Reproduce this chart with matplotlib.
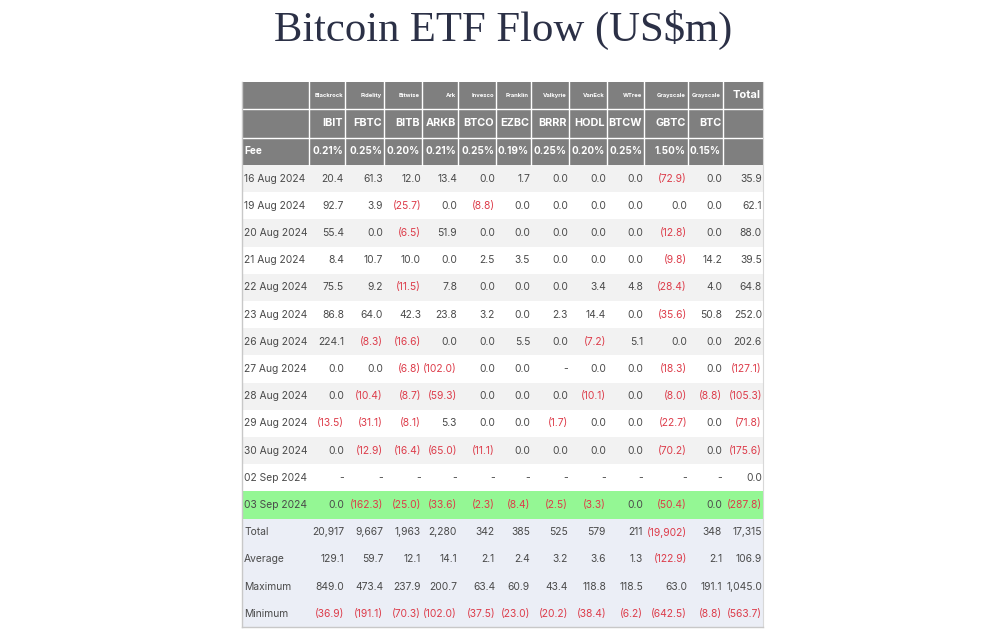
import matplotlib.pyplot as plt
from matplotlib.patches import Rectangle

# data
issuers = ["Blackrock", "Fidelity", "Bitwise", "Ark", "Invesco", "Franklin",
           "Valkyrie", "VanEck", "WTree", "Grayscale", "Grayscale"]
tickers = ["IBIT", "FBTC", "BITB", "ARKB", "BTCO", "EZBC", "BRRR", "HODL",
           "BTCW", "GBTC", "BTC"]
fees = ["0.21%", "0.25%", "0.20%", "0.21%", "0.25%", "0.19%", "0.25%",
        "0.20%", "0.25%", "1.50%", "0.15%"]
dates = ["16 Aug 2024", "19 Aug 2024", "20 Aug 2024", "21 Aug 2024",
         "22 Aug 2024", "23 Aug 2024", "26 Aug 2024", "27 Aug 2024",
         "28 Aug 2024", "29 Aug 2024", "30 Aug 2024", "02 Sep 2024",
         "03 Sep 2024"]

# one list per ticker, None = no data ("-")
IBIT = [20.4, 92.7, 55.4, 8.4, 75.5, 86.8, 224.1, 0.0, 0.0, -13.5, 0.0, None, 0.0]
FBTC = [61.3, 3.9, 0.0, 10.7, 9.2, 64.0, -8.3, 0.0, -10.4, -31.1, -12.9, None, -162.3]
BITB = [12.0, -25.7, -6.5, 10.0, -11.5, 42.3, -16.6, -6.8, -8.7, -8.1, -16.4, None, -25.0]
ARKB = [13.4, 0.0, 51.9, 0.0, 7.8, 23.8, 0.0, -102.0, -59.3, 5.3, -65.0, None, -33.6]
BTCO = [0.0, -8.8, 0.0, 2.5, 0.0, 3.2, 0.0, 0.0, 0.0, 0.0, -11.1, None, -2.3]
EZBC = [1.7, 0.0, 0.0, 3.5, 0.0, 0.0, 5.5, 0.0, 0.0, 0.0, 0.0, None, -8.4]
BRRR = [0.0, 0.0, 0.0, 0.0, 0.0, 2.3, 0.0, None, 0.0, -1.7, 0.0, None, -2.5]
HODL = [0.0, 0.0, 0.0, 0.0, 3.4, 14.4, -7.2, 0.0, -10.1, 0.0, 0.0, None, -3.3]
BTCW = [0.0, 0.0, 0.0, 0.0, 4.8, 0.0, 5.1, 0.0, 0.0, 0.0, 0.0, None, 0.0]
GBTC = [-72.9, 0.0, -12.8, -9.8, -28.4, -35.6, 0.0, -18.3, -8.0, -22.7, -70.2, None, -50.4]
BTC = [0.0, 0.0, 0.0, 14.2, 4.0, 50.8, 0.0, 0.0, -8.8, 0.0, 0.0, None, 0.0]
daily_total = [35.9, 62.1, 88.0, 39.5, 64.8, 252.0, 202.6, -127.1, -105.3,
               -71.8, -175.6, 0.0, -287.8]
flows = [IBIT, FBTC, BITB, ARKB, BTCO, EZBC, BRRR, HODL, BTCW, GBTC, BTC, daily_total]

sum_total = [20917, 9667, 1963, 2280, 342, 385, 525, 579, 211, -19902, 348, 17315]
sum_avg = [129.1, 59.7, 12.1, 14.1, 2.1, 2.4, 3.2, 3.6, 1.3, -122.9, 2.1, 106.9]
sum_max = [849.0, 473.4, 237.9, 200.7, 63.4, 60.9, 43.4, 118.8, 118.5, 63.0, 191.1, 1045.0]
sum_min = [-36.9, -191.1, -70.3, -102.0, -37.5, -23.0, -20.2, -38.4, -6.2, -642.5, -8.8, -563.7]
summary = [("Total", sum_total, 0), ("Average", sum_avg, 1),
           ("Maximum", sum_max, 1), ("Minimum", sum_min, 1)]

# layout (pixels)
col_edges = [242, 309, 345, 384, 422, 458, 496, 531, 569, 607, 644, 688, 723, 763]
head_rows = [82, 109, 138, 165]
row_h = 27.2

GREY = "#7f7f7f"
TXT = "#4a4a4a"
RED = "#dd3c4a"
FONT = "Inter"
FS = 7.4


def fmt(v, dec=1):
    if v is None:
        return "-", TXT
    if v < 0:
        return "(" + format(-v, ",.%df" % dec) + ")", RED
    return format(v, ",.%df" % dec), TXT


fig = plt.figure(figsize=(10, 6.32), dpi=100)
ax = fig.add_axes([0, 0, 1, 1])
ax.set_xlim(0, 1000)
ax.set_ylim(632, 0)
ax.axis("off")

fig.text(0.503, 0.952, "Bitcoin ETF Flow (US$m)", ha="center", va="center",
         fontsize=30.7, family="Liberation Serif", color="#2b3046")

left, right = col_edges[0], col_edges[-1]

# header block
ax.add_patch(Rectangle((left, head_rows[0]), right - left, head_rows[-1] - head_rows[0],
                       facecolor=GREY, edgecolor="none"))
for x in col_edges[1:-1]:
    ax.plot([x, x], [head_rows[0], head_rows[-1]], color="white", lw=1)
for y in head_rows[1:3]:
    ax.plot([left, right], [y, y], color="white", lw=1)

yc1 = (head_rows[0] + head_rows[1]) / 2
yc2 = (head_rows[1] + head_rows[2]) / 2
yc3 = (head_rows[2] + head_rows[3]) / 2
for i in range(len(tickers)):
    xr = col_edges[i + 2] - 2
    ax.text(xr, yc1, issuers[i], ha="right", va="center", fontsize=4.2,
            family=FONT, weight="bold", color="white")
    ax.text(xr, yc2, tickers[i], ha="right", va="center", fontsize=7.8,
            family=FONT, weight="bold", color="white")
    ax.text(xr, yc3, fees[i], ha="right", va="center", fontsize=7.2,
            family=FONT, weight="bold", color="white")
ax.text(right - 2, yc1 - 1, "Total", ha="right", va="center", fontsize=8,
        family=FONT, weight="bold", color="white")
ax.text(left + 2, yc3, "Fee", ha="left", va="center", fontsize=7.2,
        family=FONT, weight="bold", color="white")

# daily rows
y0 = head_rows[-1]
for r, d in enumerate(dates):
    top = y0 + r * row_h
    if r == len(dates) - 1:
        bg = "#94f794"
    elif r % 2 == 0:
        bg = "#f2f2f2"
    else:
        bg = "white"
    ax.add_patch(Rectangle((left, top), right - left, row_h, facecolor=bg, edgecolor="none"))
    yc = top + row_h / 2
    ax.text(left + 2, yc, d, ha="left", va="center", fontsize=FS, family=FONT, color=TXT)
    for c, series in enumerate(flows):
        s, col = fmt(series[r])
        ax.text(col_edges[c + 2] - 1, yc, s, ha="right", va="center",
                fontsize=FS, family=FONT, color=col)

# summary rows
for k, (label, vals, dec) in enumerate(summary):
    top = y0 + (len(dates) + k) * row_h
    ax.add_patch(Rectangle((left, top), right - left, row_h, facecolor="#ebeef6", edgecolor="none"))
    yc = top + row_h / 2
    ax.text(left + 2, yc, label, ha="left", va="center", fontsize=FS, family=FONT, color=TXT)
    for c, v in enumerate(vals):
        s, col = fmt(v, dec)
        ax.text(col_edges[c + 2] - 1, yc, s, ha="right", va="center",
                fontsize=FS, family=FONT, color=col)

bottom = y0 + (len(dates) + len(summary)) * row_h
ax.plot([left, left], [head_rows[0], bottom], color="#c8c8c8", lw=1)
ax.plot([right, right], [head_rows[0], bottom], color="#d8d8d8", lw=0.8)
ax.plot([left, right], [bottom, bottom], color="#c8c8c8", lw=1)

fig.savefig("out.png", dpi=100)
plt.close(fig)
